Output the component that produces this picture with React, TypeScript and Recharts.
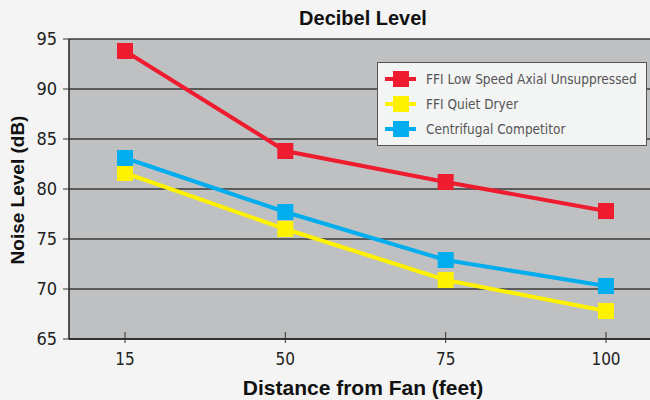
import React from 'react';
import { LineChart, Line, XAxis, YAxis, CartesianGrid } from 'recharts';

const distances = ['15', '50', '75', '100'];
const axialUnsuppressed = [93.8, 83.8, 80.7, 77.8];
const quietDryer = [81.6, 76.0, 70.9, 67.8];
const centrifugal = [83.1, 77.7, 72.9, 70.3];
const yTicks = [65, 70, 75, 80, 85, 90, 95];

const series = [
  { key: 'axial', name: 'FFI Low Speed Axial Unsuppressed', color: '#ee1c2e', values: axialUnsuppressed },
  { key: 'quiet', name: 'FFI Quiet Dryer', color: '#fff200', values: quietDryer },
  { key: 'centrifugal', name: 'Centrifugal Competitor', color: '#00aeef', values: centrifugal },
];

const data = distances.map((d, i) => {
  const row: Record<string, string | number> = { distance: d };
  series.forEach(s => {
    row[s.key] = s.values[i];
  });
  return row;
});

const condensed = "'DejaVu Sans Condensed', 'DejaVu Sans', sans-serif";
const bold = "'Liberation Sans', Arial, sans-serif";

const SquareDot = (color: string) => (props: any) => {
  const { cx, cy } = props;
  if (cx == null || cy == null) return null;
  return <rect x={cx - 8} y={cy - 8} width={16} height={16} fill={color} />;
};

const XTick = (props: any) => {
  const { x, y, payload } = props;
  return (
    <g>
      <line x1={x} x2={x} y1={y - 7} y2={y + 4} stroke="#333" strokeWidth={1} />
      <text x={x} y={y + 26} textAnchor="middle" fontFamily={condensed} fontStretch="condensed" fontSize={17} fill="#222">
        {payload.value}
      </text>
    </g>
  );
};

const LegendBox = () => (
  <div
    style={{
      position: 'absolute',
      left: 377,
      top: 62,
      width: 270,
      height: 84,
      background: '#f3f4f4',
      border: '1px solid #555',
      boxSizing: 'border-box',
      padding: '3px 0 0 6px',
    }}
  >
    {series.map(s => (
      <div key={s.key} style={{ display: 'flex', alignItems: 'center', height: 25, whiteSpace: 'nowrap' }}>
        <svg width={34} height={18}>
          <line x1={1} x2={32} y1={9} y2={9} stroke={s.color} strokeWidth={4} />
          <rect x={9} y={1} width={16} height={16} fill={s.color} />
        </svg>
        <span style={{ marginLeft: 8, fontFamily: condensed, fontStretch: 'condensed', fontSize: 13.5, color: '#555' }}>
          {s.name}
        </span>
      </div>
    ))}
  </div>
);

export default function App() {
  return (
    <div style={{ position: 'absolute', left: 0, top: 0, width: 650, height: 400, background: '#f4f4f4', overflow: 'hidden' }}>
      <LineChart width={650} height={400} data={data} margin={{ top: 39, right: 0, left: 0, bottom: 21 }}>
        <text x={363} y={25} textAnchor="middle" fontFamily={bold} fontWeight="bold" fontSize={20} fill="#111">
          Decibel Level
        </text>
        <text
          x={24}
          y={190}
          textAnchor="middle"
          transform="rotate(-90 24 190)"
          fontFamily={bold}
          fontWeight="bold"
          fontSize={19}
          fill="#111"
        >
          Noise Level (dB)
        </text>
        <text x={363} y={395} textAnchor="middle" fontFamily={bold} fontWeight="bold" fontSize={21} fill="#111">
          Distance from Fan (feet)
        </text>
        <CartesianGrid vertical={false} fill="#bfc0c2" stroke="#3a3a3a" strokeWidth={1.5} />
        <XAxis
          dataKey="distance"
          height={40}
          padding={{ left: 56, right: 44 }}
          axisLine={{ stroke: '#222', strokeWidth: 1.5 }}
          tickLine={false}
          tickSize={0}
          tickMargin={0}
          tick={<XTick />}
          interval={0}
        />
        <YAxis
          width={69}
          domain={[65, 95]}
          ticks={yTicks}
          interval={0}
          axisLine={{ stroke: '#222', strokeWidth: 1.5 }}
          tickLine={{ stroke: '#333' }}
          tickSize={6}
          tickMargin={6}
          tick={{ fontFamily: condensed, fontStretch: 'condensed', fontSize: 18, fill: '#222' }}
        />
        {series.map(s => (
          <Line
            key={s.key}
            dataKey={s.key}
            name={s.name}
            type="linear"
            stroke={s.color}
            strokeWidth={4}
            dot={SquareDot(s.color)}
            activeDot={false}
            isAnimationActive={false}
          />
        ))}
      </LineChart>
      <LegendBox />
    </div>
  );
}
